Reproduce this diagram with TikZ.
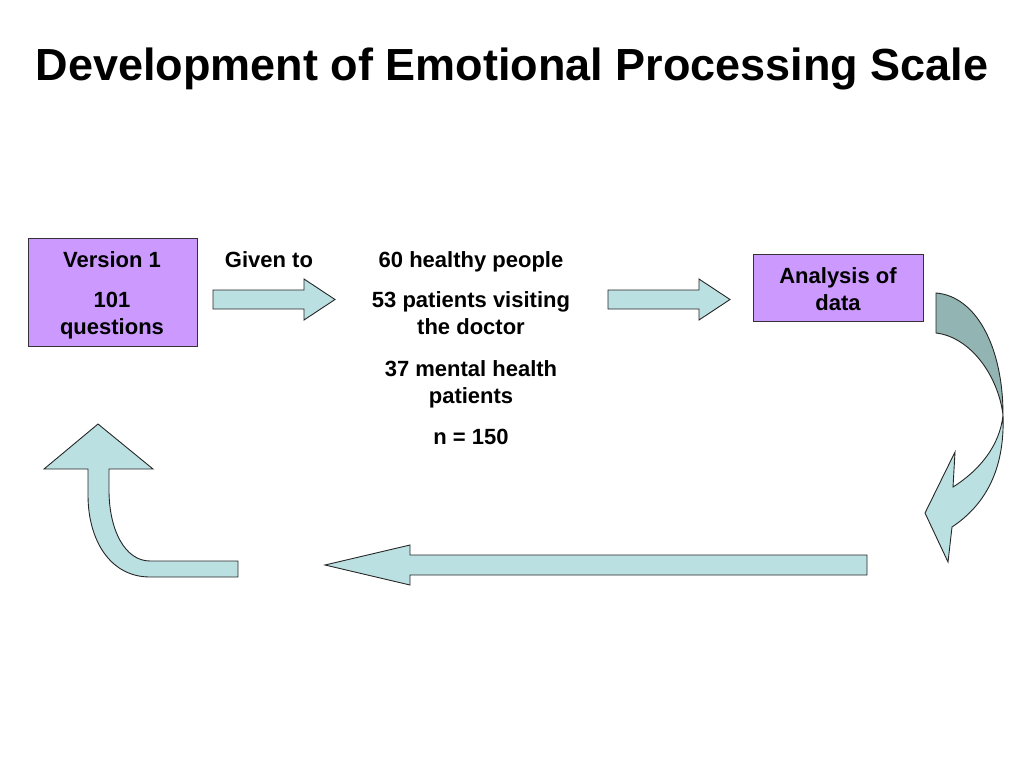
\documentclass[tikz,border=0pt]{standalone}
\usepackage{fontspec}
\setmainfont{Liberation Sans}
\definecolor{boxpurple}{RGB}{204,153,255}
\definecolor{arrowfill}{RGB}{187,224,226}
\definecolor{arrowdark}{RGB}{146,180,178}
\begin{document}
\begin{tikzpicture}[x=1pt,y=-1pt,
  every node/.style={inner sep=0pt,outer sep=0pt},
  txt/.style={anchor=base,font=\fontsize{22}{27}\selectfont\bfseries},
  pbox/.style={draw=black!80,line width=0.9pt,fill=boxpurple,rectangle},
  blockarrow/.style={draw=black!85,line width=0.9pt,fill=arrowfill,line join=miter}]
\useasboundingbox (0,0) rectangle (1024,768);
% title
\node[anchor=base,font=\fontsize{45}{54}\selectfont\bfseries] (title) at (512,80) {Development of Emotional Processing Scale};
% boxes
\node[pbox,minimum width=169pt,minimum height=108pt] (v1) at (112.5,292) {};
\node[pbox,minimum width=170pt,minimum height=67pt] (an) at (838,287.5) {};
% box texts
\node[txt] (v1a) at (112,267) {Version 1};
\node[txt] (v1b) at (112,307) {101};
\node[txt] (v1c) at (112,334) {questions};
\node[txt] (an1) at (838,283) {Analysis of};
\node[txt] (an2) at (838,310) {data};
\node[txt] (given) at (269,267) {Given to};
\node[txt] (m1) at (471,267) {60 healthy people};
\node[txt] (m2a) at (471,307) {53 patients visiting};
\node[txt] (m2b) at (471,334) {the doctor};
\node[txt] (m3a) at (471,376) {37 mental health};
\node[txt] (m3b) at (471,403) {patients};
\node[txt] (m4) at (471,444) {n = 150};
% straight block arrows
\draw[blockarrow] (213,290) -- (304,290) -- (304,279) -- (335,299.5) -- (304,320) -- (304,309) -- (213,309) -- cycle;
\draw[blockarrow] (608,290) -- (699,290) -- (699,279) -- (730,299.5) -- (699,320) -- (699,309) -- (608,309) -- cycle;
\draw[blockarrow] (867,555) -- (410,555) -- (410,545) -- (325,565) -- (410,585) -- (410,575) -- (867,575) -- cycle;
% curved arrow right
\draw[blockarrow,fill=arrowdark] (936,293) .. controls (975,296) and (1003,345) .. (1003,415)
  .. controls (998,375) and (970,337) .. (936,333) -- cycle;
\draw[blockarrow] (1003,415) .. controls (1005,470) and (985,505) .. (952,527)
  -- (948,562) -- (925,513) -- (955,452) -- (953,487)
  .. controls (980,470) and (1000,445) .. (1003,415) -- cycle;
% bent up arrow left
\draw[blockarrow] (98,424) -- (153,469) -- (109,469) -- (109,490)
  .. controls (109,530) and (125,561) .. (150,561) -- (238,561) -- (238,577) -- (150,577)
  .. controls (110,577) and (88,540) .. (88,495) -- (88,469) -- (44,469) -- cycle;
\end{tikzpicture}
\end{document}
